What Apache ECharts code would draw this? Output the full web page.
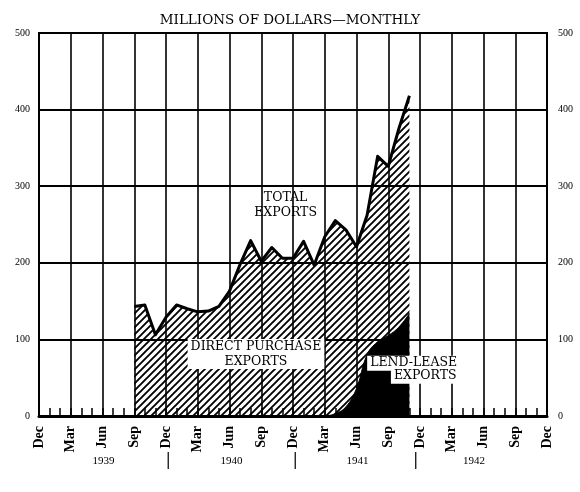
<!DOCTYPE html>
<html>
<head>
<meta charset="utf-8">
<script src="https://cdn.jsdelivr.net/npm/echarts@6/dist/echarts.min.js"></script>
<style>html,body{margin:0;padding:0;background:#fff;}#c{width:580px;height:492px;}</style>
</head>
<body>
<div id="c"></div>
<script>
// Months Dec 1938 .. Dec 1942
const months = ['Dec','Jan','Feb','Mar','Apr','May','Jun','Jul','Aug','Sep','Oct','Nov',
                'Dec','Jan','Feb','Mar','Apr','May','Jun','Jul','Aug','Sep','Oct','Nov',
                'Dec','Jan','Feb','Mar','Apr','May','Jun','Jul','Aug','Sep','Oct','Nov',
                'Dec','Jan','Feb','Mar','Apr','May','Jun','Jul','Aug','Sep','Oct','Nov','Dec'];
// Total exports (millions of dollars), Sep 1939 .. Nov 1941
const totalExports = [null,null,null,null,null,null,null,null,null,
  143,145,106,129,145,140,136,137,143,163,198,229,202,220,206,206,228,197,234,255,243,221,262,339,326,375,418,
  null,null,null,null,null,null,null,null,null,null,null,null,null];
// Lend-lease exports, Mar 1941 .. Nov 1941
const lendLease = [null,null,null,null,null,null,null,null,null,null,null,null,
  null,null,null,null,null,null,null,null,null,null,null,null,null,null,null,
  0,3,12,36,80,97,105,116,134,
  null,null,null,null,null,null,null,null,null,null,null,null,null];
const yTicks = [0,100,200,300,400,500];
const yearLabels = ['1939','1940','1941','1942'];
const yearPos = [6.1, 18.2, 30.1, 41.1];
const sepPos = [12.2, 24.2, 35.6];

function hatch(){
  const s = 7, c = document.createElement('canvas');
  c.width = s; c.height = s;
  const g = c.getContext('2d');
  g.strokeStyle = '#000'; g.lineWidth = 1.9;
  g.beginPath();
  g.moveTo(0, s); g.lineTo(s, 0);
  g.moveTo(-1, 1); g.lineTo(1, -1);
  g.moveTo(s-1, s+1); g.lineTo(s+1, s-1);
  g.stroke();
  return c;
}

const chart = echarts.init(document.getElementById('c'));
const serif = 'Liberation Serif';
chart.setOption({
  animation: false,
  backgroundColor: '#fff',
  title: {text: 'MILLIONS OF DOLLARS\u2014MONTHLY', left: 'center', top: 8,
    textStyle: {fontFamily: 'DejaVu Serif', fontSize: 13.5, fontWeight: 'normal', color: '#000'}},
  grid: {left: 39, right: 33, top: 33, bottom: 76, show: true, borderColor: '#000', borderWidth: 2},
  xAxis: {
    type: 'category', data: months, boundaryGap: false,
    axisLine: {lineStyle: {color: '#000', width: 3}},
    axisTick: {show: true, inside: true, length: 8, interval: 0, lineStyle: {color: '#000', width: 1.5}},
    axisLabel: {interval: 2, rotate: 90, margin: 10, fontFamily: serif, fontWeight: 'bold', fontSize: 14, color: '#000'},
    splitLine: {show: true, interval: 2, lineStyle: {color: '#000', width: 1.6}}
  },
  yAxis: [
    {type: 'value', min: 0, max: 500, interval: 100,
     axisLine: {show: true, lineStyle: {color: '#000', width: 2}}, axisTick: {show: false},
     axisLabel: {margin: 9, fontFamily: serif, fontSize: 10, color: '#000',
       formatter: v => yTicks.includes(v) ? String(v) : ''},
     splitLine: {show: true, lineStyle: {color: '#000', width: 2}}},
    {type: 'value', min: 0, max: 500, interval: 100, position: 'right',
     axisLine: {show: true, lineStyle: {color: '#000', width: 2}}, axisTick: {show: false},
     axisLabel: {margin: 11, fontFamily: serif, fontSize: 10, color: '#000'},
     splitLine: {show: false}}
  ],
  series: [
    {name: 'Total exports', type: 'line', data: totalExports, showSymbol: false, symbol: 'none',
     lineStyle: {color: '#000', width: 3, join: 'round'},
     areaStyle: {color: {image: hatch(), repeat: 'repeat'}, opacity: 1}, z: 2},
    {name: 'Lend-lease exports', type: 'line', data: lendLease, showSymbol: false, symbol: 'none', smooth: 0.45,
     lineStyle: {color: '#000', width: 1},
     areaStyle: {color: '#000', opacity: 1}, z: 3}
  ]
});

const p0 = chart.convertToPixel({xAxisIndex: 0, yAxisIndex: 0}, [0, 0]);
const p1 = chart.convertToPixel({xAxisIndex: 0, yAxisIndex: 0}, [48, 500]);
const xAt = f => p0[0] + (p1[0] - p0[0]) * f / 48;
const yAt = v => p0[1] + (p1[1] - p0[1]) * v / 500;

const notes = [
  {text: 'TOTAL\nEXPORTS', m: 23.3, v: 275, bg: false},
  {text: 'DIRECT PURCHASE\nEXPORTS', m: 20.5, v: 81, bg: true},
  {text: 'LEND-LEASE', m: 35.4, v: 69, bg: true},
  {text: 'EXPORTS', m: 36.5, v: 52, bg: true}
];
const g = [];
notes.forEach(n => g.push({type: 'text', x: xAt(n.m), y: yAt(n.v), z: 100,
  style: {text: n.text, fill: '#000', font: '12.5px "DejaVu Serif"', align: 'center', verticalAlign: 'middle',
    lineHeight: 15, backgroundColor: n.bg ? '#fff' : null, padding: n.bg ? [0, 3] : 0}}));
yearLabels.forEach((t, i) => g.push({type: 'text', x: xAt(yearPos[i]), y: 461, z: 100,
  style: {text: t, fill: '#000', font: '11px "Liberation Serif"', align: 'center', verticalAlign: 'middle'}}));
sepPos.forEach(m => g.push({type: 'text', x: xAt(m), y: 460, z: 100,
  style: {text: '|', fill: '#000', font: 'bold 18px "Liberation Serif"', align: 'center', verticalAlign: 'middle'}}));
chart.setOption({graphic: g});
</script>
</body>
</html>
